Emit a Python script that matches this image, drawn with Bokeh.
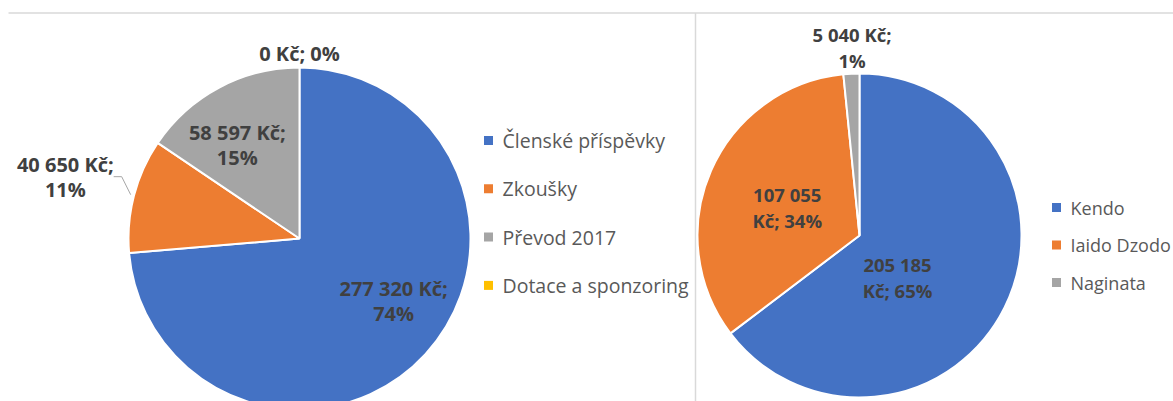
import numpy as np
from bokeh.plotting import figure
from bokeh.models import Range1d, ColumnDataSource
from bokeh.core.properties import value
from bokeh.embed import file_html
from bokeh.resources import INLINE

# ---------------- data ----------------
left_categories = ["Členské příspěvky", "Zkoušky", "Převod 2017", "Dotace a sponzoring"]
left_values = [277320, 40650, 58597, 0]
left_percents = [74, 11, 15, 0]

right_categories = ["Kendo", "Iaido Dzodo", "Naginata"]
right_values = [205185, 107055, 5040]
right_percents = [65, 34, 1]

currency = "Kč"

# ---------------- styles / layout ----------------
W, H = 1173, 401
left_colors = ["#4472C4", "#ED7D31", "#A5A5A5", "#FFC000"]
right_colors = ["#4472C4", "#ED7D31", "#A5A5A5"]
FONT = "Open Sans"
LABEL_COLOR = "#404040"
LEGEND_COLOR = "#595959"

# label layout: (radial fraction, nudge x px, nudge y px, line-break style)
left_label_layout = [(0.62, 16, -9, "after_cur"), (1.30, -19, -6, "after_cur"),
                     (0.65, -10, 5, "after_cur"), (1.08, 0, 0, "single")]
right_label_layout = [(0.40, -20, 13, "after_num"), (0.50, 2, 4, "after_num"),
                      (1.17, 2, 1, "after_cur")]


def fmt(v):
    return f"{v:,}".replace(",", " ")


def label_text(v, pct, style):
    if style == "single":
        return f"{fmt(v)} {currency}; {pct}%"
    if style == "after_num":
        return f"{fmt(v)}\n{currency}; {pct}%"
    return f"{fmt(v)} {currency};\n{pct}%"


p = figure(width=W, height=H, x_range=Range1d(0, W), y_range=Range1d(0, H),
           output_backend="svg", toolbar_location=None, min_border=0,
           x_axis_type=None, y_axis_type=None)
p.outline_line_color = None
p.xgrid.visible = False
p.ygrid.visible = False
p.background_fill_color = "white"
p.border_fill_color = "white"

# separator lines (chart frames)
p.segment(x0=[8, 695], y0=[H - 12.5, H - 12.5], x1=[W, 695], y1=[H - 12.5, 0],
          line_color="#d9d9d9", line_width=1.5)


def draw_pie(values, percents, colors, cx_px, cy_px, r, layout, fsize, lh):
    vals = np.array(values, dtype=float)
    frac = vals / vals.sum()
    cum = np.concatenate([[0.0], np.cumsum(frac)])
    a0 = cum[:-1] * 2 * np.pi  # clockwise from 12 o'clock
    a1 = cum[1:] * 2 * np.pi
    cx, cy = cx_px, H - cy_px
    mask = vals > 0
    src = ColumnDataSource(dict(
        start=(np.pi / 2 - a0)[mask],
        end=(np.pi / 2 - a1)[mask],
        color=list(np.array(colors)[mask]),
    ))
    p.wedge(x=cx, y=cy, radius=r, start_angle="start", end_angle="end",
            direction="clock", fill_color="color", line_color="white",
            line_width=2, source=src)

    mid = (a0 + a1) / 2
    xs, ys, texts = [], [], []
    for i, (rf, nx, ny, style) in enumerate(layout):
        xs.append(cx + rf * r * np.sin(mid[i]) + nx)
        ys.append(cy + rf * r * np.cos(mid[i]) - ny)
        texts.append(label_text(values[i], percents[i], style))
    p.text(x=xs, y=ys, text=texts, text_align="center", text_baseline="middle",
           text_font=value(FONT), text_font_style="bold", text_font_size=fsize,
           text_color=LABEL_COLOR, text_line_height=lh)
    return cx, cy, mid


def draw_legend(categories, colors, x_px, y0_px, step, fsize):
    ys = [H - (y0_px + i * step) for i in range(len(categories))]
    p.scatter(x=[x_px] * len(categories), y=ys, marker="square", size=9,
              fill_color=colors, line_color=None)
    p.text(x=[x_px + 14] * len(categories), y=ys, text=categories,
           text_align="left", text_baseline="middle", text_font=value(FONT),
           text_font_size=fsize, text_color=LEGEND_COLOR)


# left pie
r_left = 171
cx, cy, mid_l = draw_pie(left_values, left_percents, left_colors, 299, 238, r_left,
                         left_label_layout, "20px", 0.93)
# leader line for the outside label of "Zkoušky"
m = mid_l[1]
px0 = cx + 1.02 * r_left * np.sin(m)
py0 = cy + 1.02 * r_left * np.cos(m)
p.line(x=[px0, px0 - 9, px0 - 17], y=[py0, py0 + 18, py0 + 18],
       line_color="#a6a6a6", line_width=1)
draw_legend(left_categories, left_colors, 488, 140, 48.3, "19.5px")

# right pie
draw_pie(right_values, right_percents, right_colors, 859, 235, 162,
         right_label_layout, "18.5px", 1.05)
draw_legend(right_categories, right_colors, 1056, 207, 37.5, "18px")

open("out.html", "w").write(file_html(p, INLINE))
